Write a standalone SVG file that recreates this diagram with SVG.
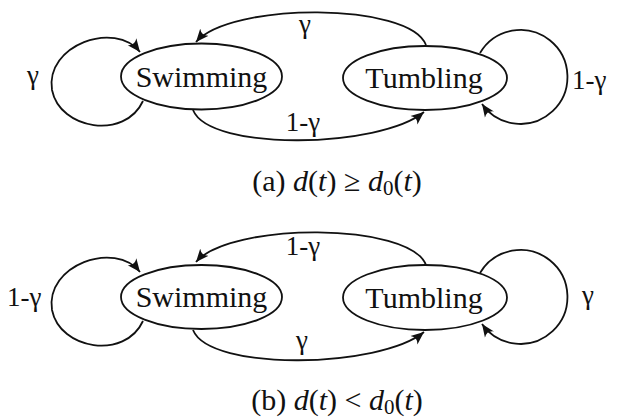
<svg xmlns="http://www.w3.org/2000/svg" width="617" height="418" viewBox="0 0 617 418" font-family="Liberation Serif">
<style>
.n{fill:#fff;stroke:#111;stroke-width:1.8}
.e{fill:none;stroke:#111;stroke-width:1.8}
.t{font-size:30px;text-anchor:middle;fill:#111}
.l{font-size:27px;fill:#111}
.c{font-size:30px;text-anchor:middle;fill:#111}
.i{font-style:italic}
.s{font-size:21px}
</style>
<defs>
<marker id="ah" markerUnits="userSpaceOnUse" markerWidth="16" markerHeight="12" refX="13" refY="6" orient="auto">
<path d="M0,0.5 L13,6 L0,11.5 Q5,6 0,0.5 z" fill="#111"/>
</marker>
</defs>
<rect width="617" height="418" fill="#fff"/>
<g id="connectors">
<path class="e" d="M426,45 C410,2 230,2 196,42" marker-end="url(#ah)"/>
<path class="e" d="M193,110 C210,152 380,148 424,112" marker-end="url(#ah)"/>
<path class="e" d="M143,101 C125,140 60,130 52,90 C45,45 115,20 140,52" marker-end="url(#ah)"/>
<path class="e" d="M480,53 A47 47 0 1 1 482,104" marker-end="url(#ah)"/>
<path class="e" d="M426,265 C410,222 230,222 196,262" marker-end="url(#ah)"/>
<path class="e" d="M193,330 C210,372 380,368 424,332" marker-end="url(#ah)"/>
<path class="e" d="M143,321 C125,360 60,350 52,310 C45,265 115,240 140,272" marker-end="url(#ah)"/>
<path class="e" d="M480,273 A47 47 0 1 1 482,324" marker-end="url(#ah)"/>
</g>
<g id="swimming-a">
<ellipse class="n" cx="201.5" cy="76.5" rx="80.5" ry="33"/>
<text class="t" x="201.5" y="87">Swimming</text>
</g>
<g id="tumbling-a">
<ellipse class="n" cx="425" cy="78" rx="82" ry="32"/>
<text class="t" x="424" y="88">Tumbling</text>
</g>
<g id="swimming-b">
<ellipse class="n" cx="201.5" cy="297" rx="80.5" ry="32"/>
<text class="t" x="201.5" y="307">Swimming</text>
</g>
<g id="tumbling-b">
<ellipse class="n" cx="425" cy="297.5" rx="82" ry="32.5"/>
<text class="t" x="424" y="308">Tumbling</text>
</g>
<g id="labels">
<text class="l" x="305" y="33" text-anchor="middle">γ</text>
<text class="l" x="33" y="84" text-anchor="middle">γ</text>
<text class="l" x="303" y="131" text-anchor="middle">1-γ</text>
<text class="l" x="572" y="89">1-γ</text>
<text class="l" x="303" y="255" text-anchor="middle">1-γ</text>
<text class="l" x="7" y="306">1-γ</text>
<text class="l" x="588" y="304" text-anchor="middle">γ</text>
<text class="l" x="302" y="349" text-anchor="middle">γ</text>
</g>
<g id="captions">
<text class="c" x="337" y="191">(a) <tspan class="i">d</tspan>(<tspan class="i">t</tspan>) ≥ <tspan class="i">d</tspan><tspan class="s" dy="4">0</tspan><tspan dy="-4">(</tspan><tspan class="i">t</tspan>)</text>
<text class="c" x="337" y="410">(b) <tspan class="i">d</tspan>(<tspan class="i">t</tspan>) &lt; <tspan class="i">d</tspan><tspan class="s" dy="4">0</tspan><tspan dy="-4">(</tspan><tspan class="i">t</tspan>)</text>
</g>
</svg>
